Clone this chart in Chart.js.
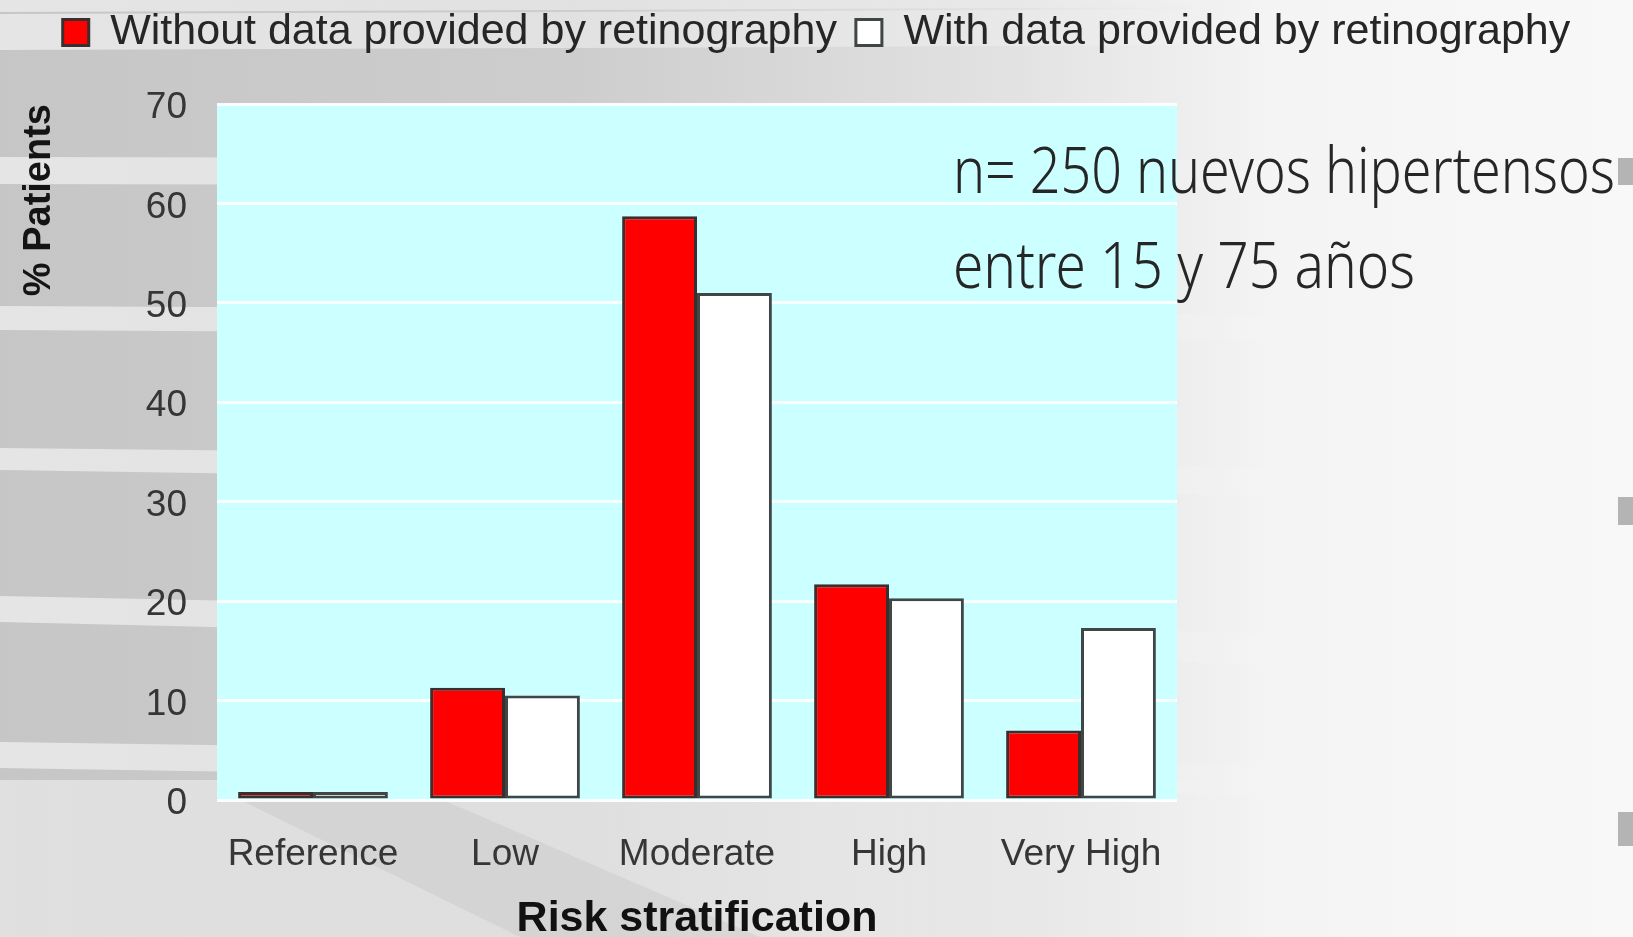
<!DOCTYPE html>
<html>
<head>
<meta charset="utf-8">
<title>Risk stratification</title>
<script src="https://cdn.jsdelivr.net/npm/chart.js@4/dist/chart.umd.min.js"></script>
<style>
  html, body { margin: 0; padding: 0; background: #e6e6e6; overflow: hidden; }
  #wrap { width: 1633px; height: 937px; }
  canvas { display: block; }
</style>
</head>
<body>
<div id="wrap"><canvas id="chart" width="1633" height="937"></canvas></div>
<script>
// ---- data ----
const categories = ['Reference', 'Low', 'Moderate', 'High', 'Very High'];
const withoutRetinography = [0.8, 11.3, 58.7, 21.7, 7.0];
const withRetinography = [0.8, 10.5, 51.0, 20.3, 17.3];
const seriesNames = ['Without data provided by retinography', 'With data provided by retinography'];
const yTickValues = [0, 10, 20, 30, 40, 50, 60, 70];
const noteLines = ['n= 250 nuevos hipertensos', 'entre 15 y 75 años'];

const SANS = '"Liberation Sans", Arial, Helvetica, sans-serif';

// slide-style grey backdrop with soft light bands, plus the cyan plot panel
const backdrop = {
  id: 'backdrop',
  beforeDraw(chart) {
    const { ctx, width, height, chartArea: a } = chart;
    ctx.save();
    const base = ctx.createLinearGradient(0, 0, width, 0);
    base.addColorStop(0, '#c6c6c6');
    base.addColorStop(0.35, '#cdcdcd');
    base.addColorStop(0.62, '#e2e2e2');
    base.addColorStop(0.78, '#f4f4f4');
    base.addColorStop(1, '#f8f8f8');
    ctx.fillStyle = base;
    ctx.fillRect(0, 0, width, height);

    const fade = ctx.createLinearGradient(0, 0, 1350, 0);
    fade.addColorStop(0, 'rgba(255,255,255,0.55)');
    fade.addColorStop(0.6, 'rgba(255,255,255,0.35)');
    fade.addColorStop(1, 'rgba(255,255,255,0)');
    ctx.fillStyle = fade;
    // bands: [yTopLeft, yBottomLeft, yTopRight, yBottomRight]
    const bands = [
      [0, 12, 0, 6],
      [14, 50, 8, 44],
      [157, 184, 160, 188],
      [306, 330, 316, 342],
      [448, 470, 470, 500],
      [596, 622, 640, 672],
      [742, 768, 770, 800]
    ];
    bands.forEach(b => {
      ctx.beginPath();
      ctx.moveTo(0, b[0]);
      ctx.quadraticCurveTo(700, b[0] + (b[2] - b[0]) * 0.3, 1400, b[2]);
      ctx.lineTo(1400, b[3]);
      ctx.quadraticCurveTo(700, b[1] + (b[3] - b[1]) * 0.3, 0, b[1]);
      ctx.closePath();
      ctx.fill();
    });

    // lighter floor under the plot, fading out towards the right
    const floor = ctx.createLinearGradient(0, 0, 1250, 0);
    floor.addColorStop(0, 'rgba(255,255,255,0.45)');
    floor.addColorStop(0.7, 'rgba(255,255,255,0.3)');
    floor.addColorStop(1, 'rgba(255,255,255,0)');
    ctx.fillStyle = floor;
    ctx.fillRect(0, 780, 1250, height - 780);
    // darker diagonal streak across the floor
    ctx.fillStyle = 'rgba(190,190,190,0.3)';
    ctx.beginPath();
    ctx.moveTo(220, 790);
    ctx.lineTo(420, 790);
    ctx.lineTo(760, height);
    ctx.lineTo(520, height);
    ctx.closePath();
    ctx.fill();

    // small template marks on the right edge
    ctx.fillStyle = '#b4b4b4';
    ctx.fillRect(1618, 158, 15, 27);
    ctx.fillRect(1618, 497, 15, 28);
    ctx.fillRect(1618, 812, 15, 34);

    // plot panel
    ctx.fillStyle = '#ccffff';
    ctx.fillRect(a.left, a.top, a.right - a.left, a.bottom - a.top);
    ctx.restore();
  }
};

// free text note in the upper right of the plot
const note = {
  id: 'note',
  afterDraw(chart) {
    const { ctx } = chart;
    const lines = [
      { text: noteLines[0], x: 953, y: 193, w: 662 },
      { text: noteLines[1], x: 953, y: 288, w: 462 }
    ];
    ctx.save();
    ctx.fillStyle = '#262626';
    ctx.textBaseline = 'alphabetic';
    ctx.textAlign = 'left';
    ctx.font = '300 64px "Noto Sans", "DejaVu Sans", sans-serif';
    lines.forEach(l => {
      const m = ctx.measureText(l.text).width;
      ctx.save();
      ctx.translate(l.x, l.y);
      ctx.scale(l.w / m, 1);
      ctx.fillText(l.text, 0, 0);
      ctx.restore();
    });
    ctx.restore();
  }
};

const hidden = {
  display: true,
  grid: { display: false },
  border: { display: false },
  ticks: { display: false }
};

new Chart(document.getElementById('chart'), {
  type: 'bar',
  data: {
    labels: categories,
    datasets: [
      {
        label: seriesNames[0],
        data: withoutRetinography,
        backgroundColor: '#ff0000',
        borderColor: '#3a2e2e',
        borderWidth: 3,
        borderSkipped: false
      },
      {
        label: seriesNames[1],
        data: withRetinography,
        backgroundColor: '#ffffff',
        borderColor: '#404646',
        borderWidth: 3,
        borderSkipped: false
      }
    ]
  },
  options: {
    responsive: false,
    animation: false,
    devicePixelRatio: 1,
    layout: { padding: { top: -8, left: 0, right: 0, bottom: 0 } },
    datasets: {
      bar: { categoryPercentage: 0.78, barPercentage: 1.0 }
    },
    plugins: {
      tooltip: { enabled: false },
      legend: {
        position: 'top',
        labels: {
          boxWidth: 26,
          boxHeight: 26,
          padding: 19,
          color: '#262626',
          font: { family: SANS, size: 43 }
        }
      }
    },
    scales: {
      x: {
        position: 'bottom',
        grid: { display: false },
        border: { display: false },
        ticks: {
          color: '#363636',
          padding: 25,
          font: { family: SANS, size: 37 }
        },
        title: {
          display: true,
          text: 'Risk stratification',
          color: '#111111',
          padding: { top: 0, bottom: 0 },
          font: { family: SANS, size: 43, weight: 'bold', lineHeight: 0.85 }
        },
        afterFit(s) { s.height = 137; }
      },
      y: {
        position: 'left',
        min: 0,
        max: 70,
        afterBuildTicks(s) { s.ticks = yTickValues.map(v => ({ value: v })); },
        grid: {
          color: 'rgba(255,255,255,0.9)',
          lineWidth: 3,
          drawTicks: false
        },
        border: { display: false },
        ticks: {
          color: '#363636',
          padding: 30,
          labelOffset: 4,
          font: { family: SANS, size: 37 }
        },
        title: {
          display: true,
          text: '% Patients',
          align: 'end',
          color: '#141414',
          padding: { top: 21, bottom: 0 },
          font: { family: SANS, size: 38, weight: 'bold', lineHeight: 1 }
        },
        afterFit(s) { s.width = 217; }
      },
      // spacer scales that hold the plot panel in place
      xTop: Object.assign({ type: 'linear', axis: 'x', position: 'top', afterFit(s) { s.height = 40; } }, hidden),
      yRight: Object.assign({ type: 'linear', axis: 'y', position: 'right', afterFit(s) { s.width = 456; } }, hidden)
    }
  },
  plugins: [backdrop, note]
});
</script>
</body>
</html>
